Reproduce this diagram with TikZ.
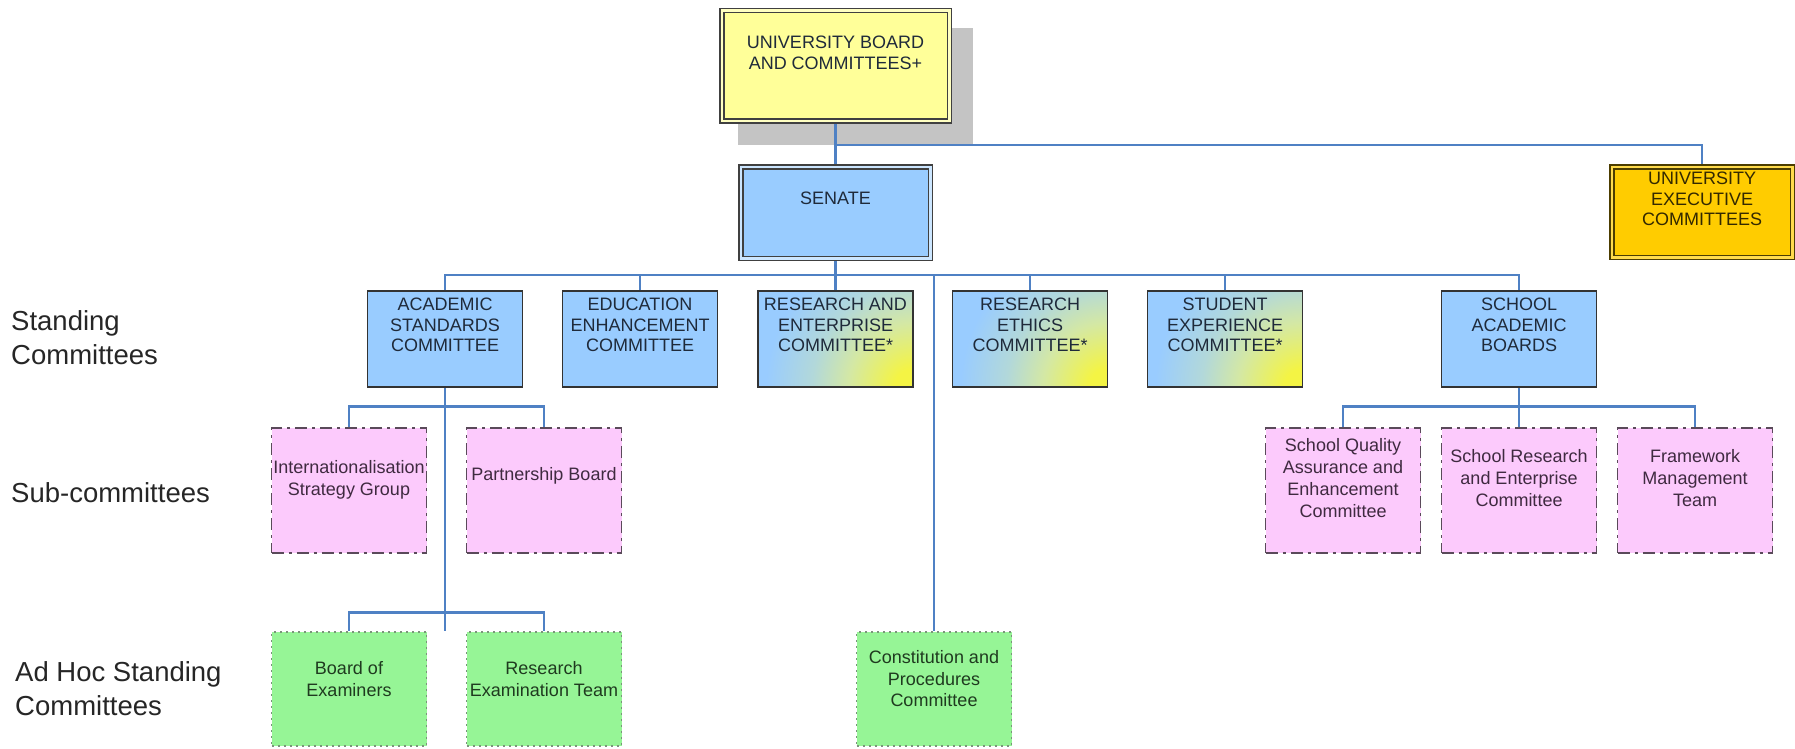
\documentclass[tikz,border=0pt]{standalone}
\usepackage{fontspec}
\setmainfont{Liberation Sans}
\pgfdeclarelayer{shadowlayer}
\pgfdeclarelayer{bg}
\pgfsetlayers{shadowlayer,bg,main}
\definecolor{linec}{HTML}{4F81C4}
\definecolor{bluefill}{HTML}{99CCFF}
\definecolor{topfill}{HTML}{FFFF99}
\definecolor{execfill}{HTML}{FFCC00}
\definecolor{pinkfill}{HTML}{FCCAFC}
\definecolor{greenfill}{HTML}{96F596}
\definecolor{pinkborder}{HTML}{5A4A5A}
\definecolor{greenborder}{HTML}{7A947A}
\definecolor{gradyellow}{HTML}{F4F444}
\definecolor{gradmid}{HTML}{D4E8A4}
\definecolor{gradmid2}{HTML}{B2D8DA}
\definecolor{shadowc}{HTML}{C4C4C4}
\definecolor{bluetext}{HTML}{1F2A3A}
\definecolor{pinktext}{HTML}{3F2A40}
\definecolor{greentext}{HTML}{1F3A1F}
\pgfdeclareradialshading{cornerglow}{\pgfpoint{0bp}{0bp}}{color(0bp)=(gradyellow); color(2bp)=(gradyellow); color(7bp)=(gradmid); color(11bp)=(gradmid2); color(16bp)=(bluefill); color(50bp)=(bluefill)}
\tikzset{
  x=1pt, y=-1pt,
  conn/.style={draw=linec, line width=2.8pt},
  dblbox/.style={rectangle, draw=black!75, line width=1.5pt, double distance=2.5pt, inner sep=0pt},
  stdbox/.style={rectangle, draw=black!80, line width=1.8pt, fill=bluefill, minimum width=155pt, minimum height=96pt, inner sep=0pt},
  gradbox/.style={stdbox, path picture={\shade[shading=cornerglow] (path picture bounding box.south east) circle (230pt);}},
  pinkbox/.style={rectangle, draw=pinkborder, line width=1.8pt, fill=pinkfill, dash pattern=on 12pt off 5pt on 3pt off 5pt, minimum width=155pt, minimum height=125pt, inner sep=0pt},
  greenbox/.style={rectangle, draw=greenborder, line width=1.8pt, fill=greenfill, dash pattern=on 2pt off 4pt, minimum width=155pt, minimum height=114pt, inner sep=0pt},
  btxt/.style={align=center, inner sep=0pt, text=bluetext, font=\fontsize{18}{20.5}\selectfont},
  ptxt/.style={align=center, inner sep=0pt, text=pinktext, font=\fontsize{18}{22}\selectfont},
  gtxt/.style={align=center, inner sep=0pt, text=greentext, font=\fontsize{18}{21.5}\selectfont},
  side/.style={align=left, anchor=west, inner sep=0pt, text=black!85, font=\fontsize{27.5}{34}\selectfont},
}
\begin{document}
\begin{tikzpicture}
\useasboundingbox (0,0) rectangle (1795,749);
% shadow
\begin{pgfonlayer}{shadowlayer}
\fill[shadowc] (738,28) rectangle (973,145);
\end{pgfonlayer}
% top boxes
\node[dblbox, fill=topfill, double=topfill!60!white, minimum width=227.5pt, minimum height=110.5pt] (board) at (835.5,66) {};
\node[btxt] (boardT) at ([yshift=13pt]board.center) {UNIVERSITY BOARD\\AND COMMITTEES+};
\node[dblbox, fill=bluefill, double=bluefill!50!white, minimum width=189.5pt, minimum height=91.5pt] (senate) at (835.5,212.5) {};
\node[btxt] (senateT) at ([yshift=14.5pt]senate.center) {SENATE};
\node[dblbox, fill=execfill, double=execfill!70!white, draw=black!70!execfill, minimum width=180.5pt, minimum height=90.5pt] (exec) at (1702,212) {};
\node[btxt, text=black!80!execfill] (execT) at ([yshift=13pt]exec.center) {UNIVERSITY\\EXECUTIVE\\COMMITTEES};
% standing committees
\node[stdbox] (acad) at (445,339) {};
\node[btxt] (acadT) at ([yshift=14pt]acad.center) {ACADEMIC\\STANDARDS\\COMMITTEE};
\node[stdbox] (edu) at (640,339) {};
\node[btxt] (eduT) at ([yshift=14pt]edu.center) {EDUCATION\\ENHANCEMENT\\COMMITTEE};
\node[gradbox] (rec) at (835.5,339) {};
\node[btxt] (recT) at ([yshift=14pt]rec.center) {RESEARCH AND\\ENTERPRISE\\COMMITTEE*};
\node[gradbox] (eth) at (1030,339) {};
\node[btxt] (ethT) at ([yshift=14pt]eth.center) {RESEARCH\\ETHICS\\COMMITTEE*};
\node[gradbox] (stu) at (1225,339) {};
\node[btxt] (stuT) at ([yshift=14pt]stu.center) {STUDENT\\EXPERIENCE\\COMMITTEE*};
\node[stdbox] (sab) at (1519,339) {};
\node[btxt] (sabT) at ([yshift=14pt]sab.center) {SCHOOL\\ACADEMIC\\BOARDS};
% sub-committees
\node[pinkbox] (intl) at (349,490.5) {};
\node[ptxt] (intlT) at ([yshift=11pt]intl.center) {Internationalisation\\Strategy Group};
\node[pinkbox] (part) at (544,490.5) {};
\node[ptxt] (partT) at ([yshift=15pt]part.center) {Partnership Board};
\node[pinkbox] (sqae) at (1343,490.5) {};
\node[ptxt] (sqaeT) at ([yshift=12pt]sqae.center) {School Quality\\Assurance and\\Enhancement\\Committee};
\node[pinkbox] (sre) at (1519,490.5) {};
\node[ptxt] (sreT) at ([yshift=12pt]sre.center) {School Research\\and Enterprise\\Committee};
\node[pinkbox] (fmt) at (1695,490.5) {};
\node[ptxt] (fmtT) at ([yshift=12pt]fmt.center) {Framework\\Management\\Team};
% ad hoc
\node[greenbox] (boe) at (349,689) {};
\node[gtxt] (boeT) at ([yshift=10pt]boe.center) {Board of\\Examiners};
\node[greenbox] (ret) at (544,689) {};
\node[gtxt] (retT) at ([yshift=10pt]ret.center) {Research\\Examination Team};
\node[greenbox] (cpc) at (934,689) {};
\node[gtxt] (cpcT) at ([yshift=10pt]cpc.center) {Constitution and\\Procedures\\Committee};
% side labels
\node[side] (lstand) at (11,338) {Standing\\Committees};
\node[side] (lsub) at (11,493) {Sub-committees};
\node[side] (ladhoc) at (15,689) {Ad Hoc Standing\\Committees};
% connectors
\coordinate (topbar) at (835.5,145);
\coordinate (sbar) at (835.5,275);
\coordinate (subbar) at (445,406.4);
\coordinate (ahbar) at (445,612.5);
\coordinate (sabbar) at (1519,406.4);
\begin{pgfonlayer}{bg}
\draw[conn] (board.south) -- (senate.north);
\draw[conn] (topbar) -| (exec.north);
\draw[conn] (senate.south) -- (sbar);
\draw[conn] (acad.north) -- (acad.north |- sbar) -- (sab.north |- sbar) -- (sab.north);
\draw[conn] (edu.north) -- (edu.north |- sbar);
\draw[conn] (rec.north) -- (rec.north |- sbar);
\draw[conn] (eth.north) -- (eth.north |- sbar);
\draw[conn] (stu.north) -- (stu.north |- sbar);
\draw[conn] (cpc.north) -- (cpc.north |- sbar);
\draw[conn] (acad.south) -- (acad.south |- boe.north);
\draw[conn] (intl.north) -- (intl.north |- subbar) -- (part.north |- subbar) -- (part.north);
\draw[conn] (boe.north) -- (boe.north |- ahbar) -- (ret.north |- ahbar) -- (ret.north);
\draw[conn] (sab.south) -- (sabbar);
\draw[conn] (sqae.north) -- (sqae.north |- sabbar) -- (fmt.north |- sabbar) -- (fmt.north);
\draw[conn] (sre.north) -- (sre.north |- sabbar);
\end{pgfonlayer}
\end{tikzpicture}
\end{document}
